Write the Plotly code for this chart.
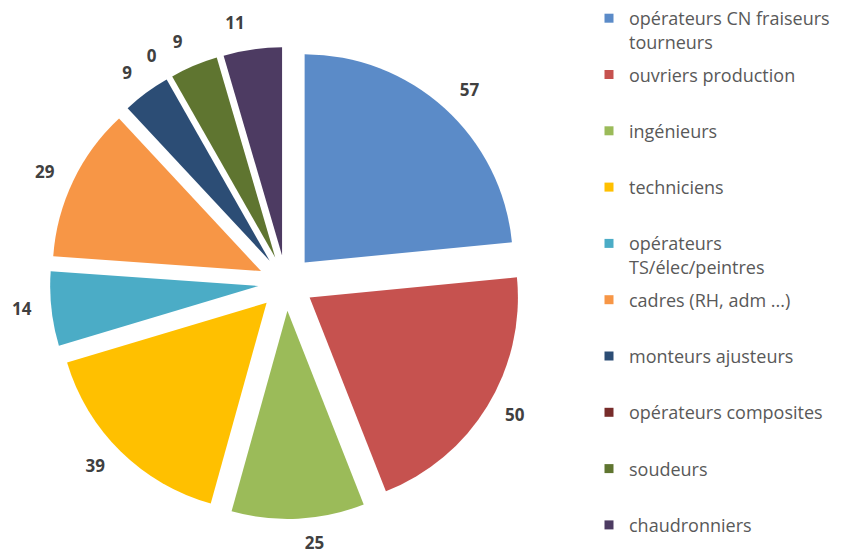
import plotly.graph_objects as go

categories = [
    "opérateurs CN fraiseurs<br>tourneurs",
    "ouvriers production",
    "ingénieurs",
    "techniciens",
    "opérateurs<br>TS/élec/peintres",
    "cadres (RH, adm ...)",
    "monteurs ajusteurs",
    "opérateurs composites",
    "soudeurs",
    "chaudronniers",
]
values = [57, 50, 25, 39, 14, 29, 9, 0, 9, 11]
colors = ["#5B8BC8", "#C6524F", "#9BBB59", "#FFC000", "#4BACC6",
          "#F79646", "#2C4D75", "#772C2A", "#5F7530", "#4D3B62"]

W, H = 846, 553
cx, cy = 278, 275          # pie centre in figure pixels
pull = 0.133
outer = 236                # radius incl. pull
label_cy = 273             # centre of label ring
label_r = 250              # radius of label ring

def dom(rad, ccy=cy):
    return dict(x=[(cx - rad) / W, (cx + rad) / W],
                y=[(H - ccy - rad) / H, (H - ccy + rad) / H])

fig = go.Figure()

# visible exploded pie
fig.add_trace(go.Pie(
    labels=categories, values=values, sort=False, direction="clockwise",
    rotation=0, pull=[pull] * len(values),
    marker=dict(colors=colors, line=dict(width=0)),
    textinfo="none", showlegend=False, hoverinfo="label+value",
    domain=dom(outer),
))

# transparent rings carrying the value labels (split so labels are not scooted)
n = len(values)
for k in range(3):
    fig.add_trace(go.Pie(
        labels=categories, values=values, sort=False, direction="clockwise",
        rotation=0, marker=dict(colors=["rgba(0,0,0,0)"] * n),
        textinfo="value",
        textposition=["outside" if i % 3 == k else "none" for i in range(n)],
        outsidetextfont=dict(family="Open Sans", size=17, color="#404040", weight="bold"),
        showlegend=False, hoverinfo="skip",
        domain=dom(label_r, label_cy),
    ))

# legend entries
for i, (name, col) in enumerate(zip(categories, colors)):
    text = name if ("<br>" in name or i == n - 1) else name + "<br> "
    fig.add_trace(go.Scatter(
        x=[None], y=[None], mode="markers", name=text,
        marker=dict(symbol="square", size=9, color=col),
        legendgroup=f"g{i}", showlegend=True, hoverinfo="skip",
    ))

fig.update_layout(
    width=W, height=H,
    margin=dict(l=0, r=0, t=0, b=0, autoexpand=False),
    paper_bgcolor="white", plot_bgcolor="white",
    xaxis=dict(visible=False), yaxis=dict(visible=False),
    showlegend=True,
    legend=dict(x=581 / W, xanchor="left", y=1 + 8 / H, yanchor="top",
                valign="top", tracegroupgap=6.5, maxheight=700,
                font=dict(family="Open Sans", size=18, color="#595959"),
                bgcolor="rgba(0,0,0,0)", itemclick=False),
)

fig.write_html("out.html")
